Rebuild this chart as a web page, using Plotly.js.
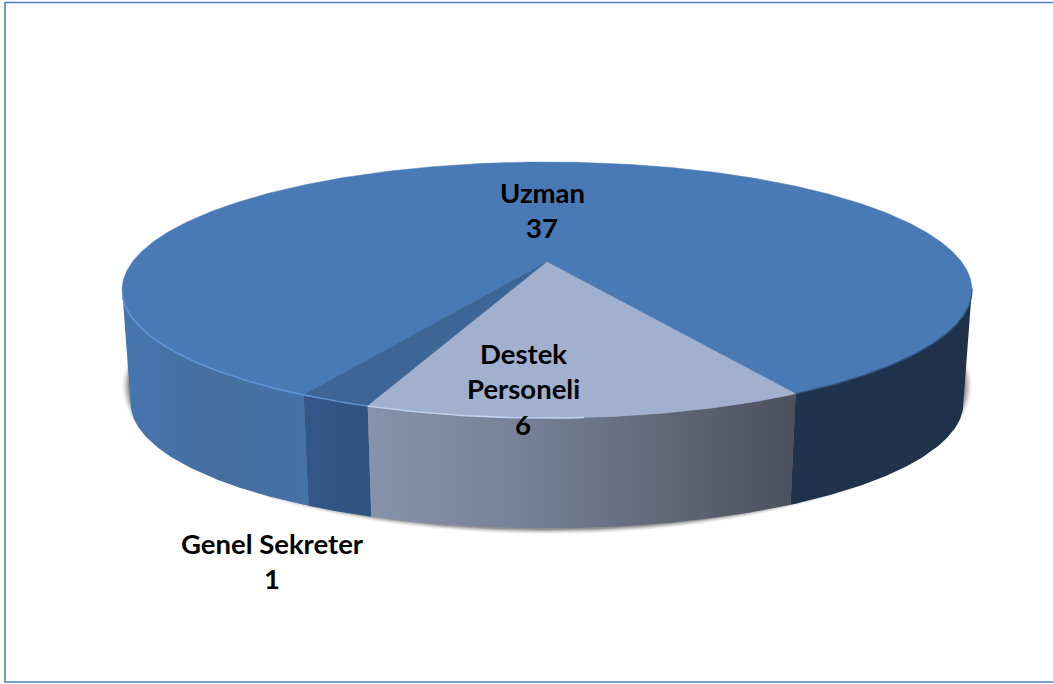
<!DOCTYPE html>
<html>
<head>
<meta charset="utf-8">
<script src="https://cdn.plot.ly/plotly-3.0.1.min.js"></script>
<style>html,body{margin:0;padding:0;background:#fff}#chart{width:1053px;height:684px}</style>
</head>
<body>
<div id="chart"></div>
<script>
// Data
const categories = ["Uzman", "Genel Sekreter", "Destek Personeli"];
const values = [37, 1, 6];
const labelLines = [["Uzman"], ["Genel Sekreter"], ["Destek", "Personeli"]];

// Styles
const topColors = ["#4a7ab5", "#3d6696", "#a2b0cf"];
const startDeg = 29;            // first slice starts here, measured from the front of the disk
const labelPos = [[542, 192], [272, 543], [523, 353]];
const lineGap = 35.5;

// Perspective view of the disk
const view = {cx: 547, cy: 262, rx: 414.7, b: 121.9, k: 0.2188};
const base = {cy: 375.5, scale: 0.98};
function proj(deg, lower) {
  const t = deg * Math.PI / 180, u = Math.sin(t), v = Math.cos(t);
  const w = 1 - view.k * v;
  const s = lower ? base.scale : 1, cy = lower ? base.cy : view.cy;
  return [view.cx + s * view.rx * u / w, cy + s * view.b * v / w];
}
function arc(a, b, lower) {
  const n = Math.max(2, Math.ceil(Math.abs(b - a) / 0.5));
  const xs = [], ys = [];
  for (let i = 0; i <= n; i++) {
    const p = proj(a + (b - a) * i / n, lower);
    xs.push(p[0]); ys.push(p[1]);
  }
  return [xs, ys];
}
const total = values.reduce((s, v) => s + v, 0);
let cursor = startDeg;
const spans = values.map(v => {
  const a = cursor; cursor += v / total * 360; return [a, cursor];
});
const [uz, gs, dp] = spans;

function poly(xs, ys, extra) {
  return Object.assign({type: "scatter", mode: "lines", x: xs, y: ys, fill: "toself",
    line: {width: 0}, hoverinfo: "skip", showlegend: false}, extra);
}
function sideFace(a, b, stops) {
  const t = arc(a, b, false), l = arc(b, a, true);
  return poly(t[0].concat(l[0]), t[1].concat(l[1]), {
    fillcolor: stops[0][1],
    fillgradient: {type: "horizontal", colorscale: stops}
  });
}
function topFace(span, color) {
  const t = arc(span[0], span[1], false);
  return poly([view.cx].concat(t[0], [view.cx]), [view.cy].concat(t[1], [view.cy]),
    {fillcolor: color, line: {width: 0.5, color: color}});
}
function edge(a, b, color, width) {
  const t = arc(a, b, false);
  return {type: "scatter", mode: "lines", x: t[0], y: t[1],
    line: {color: color, width: width}, hoverinfo: "skip", showlegend: false};
}
function shadowLayer(rx, bottom, alpha) {
  const xs = [], ys = [];
  const cy = 386;
  for (let d = 0; d <= 360; d += 1) {
    const t = d * Math.PI / 180;
    xs.push(547 + rx * Math.sin(t));
    ys.push(cy + (bottom - cy) * Math.cos(t));
  }
  return poly(xs, ys, {fillcolor: "rgba(40,40,40," + alpha + ")"});
}

const traces = [];
[[425, 534, 0.05], [423.5, 533, 0.08], [422, 532, 0.12], [420.5, 531, 0.16], [419, 530, 0.22]]
  .forEach(s => traces.push(shadowLayer(s[0], s[1], s[2])));

traces.push(sideFace(-78, uz[1] - 360, [[0, "#4675ae"], [0.5, "#466f9f"], [1, "#4572a8"]]));
traces.push(sideFace(uz[1] - 360, gs[1] - 360, [[0, "#35568a"], [1, "#30537f"]]));
traces.push(sideFace(gs[1] - 360, dp[1] - 360, [[0, "#8792ab"], [0.35, "#778298"], [0.65, "#636b7e"], [1, "#4c4f5c"]]));
traces.push(sideFace(dp[1] - 360, 78, [[0, "#1f334d"], [1, "#1f3249"]]));

traces.push(topFace(uz, topColors[0]));
traces.push(topFace(gs, topColors[1]));
traces.push(topFace(dp, topColors[2]));

traces.push(edge(-74, uz[1] - 360, "#5f95d8", 1.6));
traces.push(edge(uz[1] - 360, gs[1] - 360, "#5f95d8", 1.4));
traces.push(edge(gs[1] - 360, 4, "#c4d4f0", 1.4));
traces.push(edge(dp[1] - 360, 78, "#2f5078", 1.2));

const annotations = [];
categories.forEach((c, i) => {
  const lines = labelLines[i].concat([String(values[i])]);
  lines.forEach((txt, j) => annotations.push({
    x: labelPos[i][0], y: labelPos[i][1] + j * lineGap, xref: "x", yref: "y",
    text: "<b>" + txt + "</b>", showarrow: false, xanchor: "center", yanchor: "middle",
    font: {family: "Lato, sans-serif", size: 27.5, color: "#000"}
  }));
});

const layout = {
  width: 1053, height: 684,
  margin: {l: 0, r: 0, t: 0, b: 0},
  paper_bgcolor: "#fff", plot_bgcolor: "#fff",
  showlegend: false,
  xaxis: {range: [0, 1053], visible: false, fixedrange: true},
  yaxis: {range: [684, 0], visible: false, fixedrange: true},
  shapes: [{type: "rect", xref: "x", yref: "y", x0: 5, y0: 2.5, x1: 1058, y1: 682,
    line: {color: "#4f81bd", width: 1.6}, layer: "below"}],
  annotations: annotations
};
Plotly.newPlot("chart", traces, layout, {displayModeBar: false, staticPlot: true});
</script>
</body>
</html>
